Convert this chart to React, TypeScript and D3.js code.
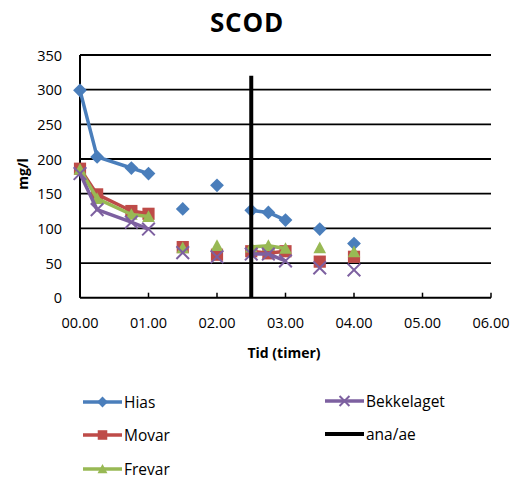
import React from "react";
import * as d3 from "d3";

const times = [0, 0.25, 0.75, 1.0, 1.25, 1.5, 1.75, 2.0, 2.25, 2.5, 2.75, 3.0, 3.25, 3.5, 3.75, 4.0];
const hias = [299, 203, 187, 179, null, 128, null, 162, null, 126, 123, 112, null, 99, null, 78];
const movar = [186, 149, 125, 121, null, 73, null, 62, null, 67, 64, 67, null, 52, null, 59];
const frevar = [185, 143, 120, 117, null, 72, null, 75, null, 73, 75, 71, null, 72, null, 66];
const bekkelaget = [179, 127, 109, 99, null, 65, null, 59, null, 63, 63, 53, null, 43, null, 40];
const anaTimes = [2.5, 2.5];
const anaValues = [0, 320];

const yTicks = [0, 50, 100, 150, 200, 250, 300, 350];
const xTicks = [0, 1, 2, 3, 4, 5, 6];
const xTickLabels = ["00.00", "01.00", "02.00", "03.00", "04.00", "05.00", "06.00"];

const FONT = "'Open Sans', 'DejaVu Sans', sans-serif";

type Marker = "diamond" | "square" | "triangle" | "x";

const seriesList: { name: string; values: (number | null)[]; color: string; marker: Marker }[] = [
  { name: "Hias", values: hias, color: "#4A7EBB", marker: "diamond" },
  { name: "Movar", values: movar, color: "#BE4B48", marker: "square" },
  { name: "Frevar", values: frevar, color: "#98B954", marker: "triangle" },
  { name: "Bekkelaget", values: bekkelaget, color: "#7D60A0", marker: "x" },
];

function MarkerShape({ type, cx, cy, color, s }: { type: Marker; cx: number; cy: number; color: string; s: number }) {
  if (type === "diamond") {
    const h = s * 0.6;
    return <path d={`M${cx},${cy - h}L${cx + h},${cy}L${cx},${cy + h}L${cx - h},${cy}Z`} fill={color} />;
  }
  if (type === "square") {
    const h = s * 0.53;
    return <rect x={cx - h} y={cy - h} width={2 * h} height={2 * h} fill={color} />;
  }
  if (type === "triangle") {
    const h = s * 0.55;
    return <path d={`M${cx},${cy - h}L${cx + h},${cy + h * 0.85}L${cx - h},${cy + h * 0.85}Z`} fill={color} />;
  }
  const h = s * 0.55;
  return (
    <path
      d={`M${cx - h},${cy - h}L${cx + h},${cy + h}M${cx - h},${cy + h}L${cx + h},${cy - h}`}
      stroke={color}
      strokeWidth={2}
      fill="none"
    />
  );
}

export default function App() {
  const W = 524, H = 480;
  const x = d3.scaleLinear().domain([0, 6]).range([80, 491]);
  const y = d3.scaleLinear().domain([0, 350]).range([297.7, 55]);

  const line = d3
    .line<[number, number | null]>()
    .defined((d) => d[1] !== null)
    .x((d) => x(d[0]))
    .y((d) => y(d[1] as number));

  const anaLine = d3
    .line<[number, number]>()
    .x((d) => x(d[0]))
    .y((d) => y(d[1]));

  const legendItems = [
    { name: "Hias", color: "#4A7EBB", marker: "diamond" as Marker | null, lx: 83, ly: 402 },
    { name: "Movar", color: "#BE4B48", marker: "square" as Marker | null, lx: 83, ly: 435 },
    { name: "Frevar", color: "#98B954", marker: "triangle" as Marker | null, lx: 83, ly: 469 },
    { name: "Bekkelaget", color: "#7D60A0", marker: "x" as Marker | null, lx: 325, ly: 401 },
    { name: "ana/ae", color: "#000000", marker: null, lx: 325, ly: 434 },
  ];

  return (
    <svg width={W} height={H} style={{ position: "absolute", left: 0, top: 0, background: "#fff" }} fontFamily={FONT}>
      <rect width={W} height={H} fill="#fff" />
      <text x={247} y={22} textAnchor="middle" dominantBaseline="central" fontSize={26} fontWeight="bold" letterSpacing={0.8}>
        SCOD
      </text>

      {/* gridlines */}
      {yTicks.map((t) => (
        <line key={"g" + t} x1={80} x2={491} y1={y(t)} y2={y(t)} stroke="#000" strokeWidth={t === 0 ? 2 : 1.8} />
      ))}
      {/* y axis */}
      <line x1={80} x2={80} y1={y(350)} y2={y(0)} stroke="#000" strokeWidth={2} />
      {yTicks.map((t) => (
        <text key={"yl" + t} x={62} y={y(t)} textAnchor="end" dominantBaseline="central" fontSize={14.5}>
          {t}
        </text>
      ))}
      {/* x ticks */}
      {xTicks.map((t, i) => (
        <g key={"xt" + t}>
          <line x1={x(t)} x2={x(t)} y1={y(0)} y2={y(0) - 5} stroke="#000" strokeWidth={1.5} />
          <text x={x(t)} y={322} textAnchor="middle" dominantBaseline="central" fontSize={14.5}>
            {xTickLabels[i]}
          </text>
        </g>
      ))}
      <text x={284} y={352} textAnchor="middle" dominantBaseline="central" fontSize={14} fontWeight="bold">
        Tid (timer)
      </text>
      <text
        transform={`translate(22,174) rotate(-90)`}
        textAnchor="middle"
        dominantBaseline="central"
        fontSize={14}
        fontWeight="bold"
      >
        mg/l
      </text>

      {/* series */}
      {seriesList.map((s) => {
        const pts = times.map((t, i) => [t, s.values[i]] as [number, number | null]);
        return (
          <g key={s.name}>
            <path d={line(pts) || ""} fill="none" stroke={s.color} strokeWidth={3.5} strokeLinejoin="round" />
            {pts
              .filter((p) => p[1] !== null)
              .map((p, i) => (
                <MarkerShape key={i} type={s.marker} cx={x(p[0])} cy={y(p[1] as number)} color={s.color} s={11.5} />
              ))}
          </g>
        );
      })}
      <path
        d={anaLine(anaTimes.map((t, i) => [t, anaValues[i]] as [number, number])) || ""}
        stroke="#000"
        strokeWidth={4}
        fill="none"
      />

      {/* legend */}
      {legendItems.map((it) => (
        <g key={it.name}>
          <line x1={it.lx} x2={it.lx + 39} y1={it.ly} y2={it.ly} stroke={it.color} strokeWidth={it.marker ? 3.5 : 4} />
          {it.marker && <MarkerShape type={it.marker} cx={it.lx + 19.5} cy={it.ly} color={it.color} s={9} />}
          <text x={it.lx + 41} y={it.ly} dominantBaseline="central" fontSize={15.5}>
            {it.name}
          </text>
        </g>
      ))}
    </svg>
  );
}
